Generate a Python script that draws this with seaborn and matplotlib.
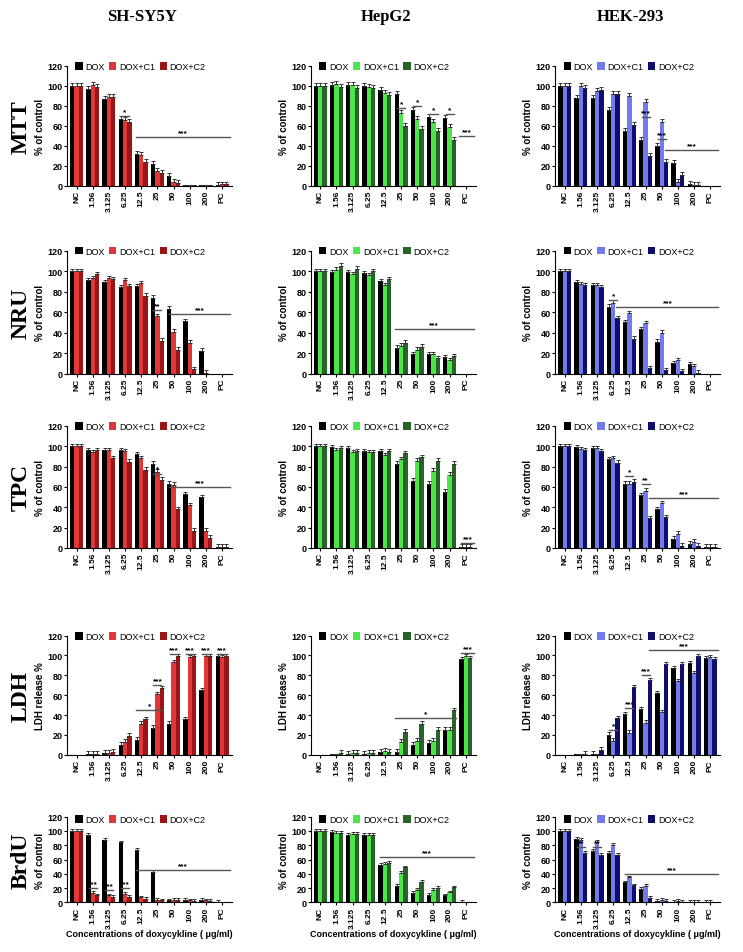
import numpy as np
import pandas as pd
import matplotlib
matplotlib.use("Agg")
import matplotlib.pyplot as plt
import seaborn as sns

CATS = ["NC", "1.56", "3.125", "6.25", "12.5", "25", "50", "100", "200", "PC"]
SERIES = ["DOX", "DOX+C1", "DOX+C2"]
ASSAYS = ["MTT", "NRU", "TPC", "LDH", "BrdU"]
CELLS = ["SH-SY5Y", "HepG2", "HEK-293"]

# MTT
MTT_SH_DOX = [100, 97, 87, 67, 32, 22, 10, 0.5, 0.3, 1]
MTT_SH_C1 = [100, 101, 89, 66, 31, 15, 4, 0.3, 0.3, 1.5]
MTT_SH_C2 = [100, 99, 89, 64, 24, 13, 3, 0.3, 0.3, 1.5]
MTT_HEP_DOX = [100, 101, 101, 100, 96, 92, 76, 69, 68, 0]
MTT_HEP_C1 = [100, 102, 101, 99, 93, 73, 67, 64, 59, 0]
MTT_HEP_C2 = [100, 99, 98, 98, 91, 60, 57, 55, 46, 0]
MTT_HEK_DOX = [100, 88, 88, 76, 55, 46, 40, 23, 2, 0]
MTT_HEK_C1 = [100, 100, 95, 92, 90, 84, 64, 4, 1, 0]
MTT_HEK_C2 = [100, 98, 96, 92, 61, 30, 24, 11, 1, 0]
# NRU
NRU_SH_DOX = [100, 91, 89, 84, 85, 74, 63, 51, 22, 0]
NRU_SH_C1 = [100, 93, 93, 91, 88, 56, 41, 30, 1, 0]
NRU_SH_C2 = [100, 97, 92, 85, 76, 32, 23, 4, 0, 0]
NRU_HEP_DOX = [100, 99, 99, 98, 90, 25, 19, 19, 16, 0]
NRU_HEP_C1 = [100, 101, 97, 96, 86, 27, 23, 19, 13, 0]
NRU_HEP_C2 = [100, 105, 102, 100, 92, 30, 26, 15, 17, 0]
NRU_HEK_DOX = [100, 89, 86, 65, 50, 43, 31, 10, 9, 0]
NRU_HEK_C1 = [100, 87, 86, 69, 59, 49, 40, 13, 7, 0]
NRU_HEK_C2 = [100, 86, 84, 54, 34, 5, 3, 2, 1, 0]
# TPC
TPC_SH_DOX = [100, 96, 96, 96, 92, 83, 63, 53, 50, 1]
TPC_SH_C1 = [100, 94, 96, 95, 88, 75, 62, 42, 17, 1]
TPC_SH_C2 = [100, 96, 88, 85, 77, 67, 38, 17, 10, 1]
TPC_HEP_DOX = [100, 99, 98, 95, 95, 83, 66, 63, 55, 1]
TPC_HEP_C1 = [100, 96, 94, 94, 91, 87, 86, 76, 72, 1]
TPC_HEP_C2 = [100, 98, 95, 94, 95, 93, 89, 86, 83, 1]
TPC_HEK_DOX = [100, 99, 98, 87, 63, 52, 38, 9, 4, 1]
TPC_HEK_C1 = [100, 97, 98, 88, 63, 56, 44, 14, 6, 1]
TPC_HEK_C2 = [100, 96, 95, 84, 65, 29, 30, 2, 2, 1]
# LDH
LDH_SH_DOX = [0, 1, 2, 10, 15, 27, 31, 36, 65, 99]
LDH_SH_C1 = [0, 1, 2, 13, 31, 61, 93, 98, 99, 98]
LDH_SH_C2 = [0, 1, 3, 19, 36, 67, 99, 99, 99, 99]
LDH_HEP_DOX = [0, 0.5, 1, 1, 3, 3, 10, 12, 25, 96]
LDH_HEP_C1 = [0, 0.5, 2, 2, 4, 13, 14, 14, 25, 99]
LDH_HEP_C2 = [0, 2, 2, 2, 3, 23, 31, 25, 45, 97]
LDH_HEK_DOX = [0, 0.5, 1, 20, 41, 46, 62, 87, 92, 97]
LDH_HEK_C1 = [0, 0.5, 0.5, 14, 22, 32, 43, 74, 82, 98]
LDH_HEK_C2 = [0, 1, 5, 37, 68, 75, 91, 91, 99, 96]
# BrdU
BRDU_SH_DOX = [100, 95, 87, 84, 73, 43, 3, 4, 4, 1]
BRDU_SH_C1 = [100, 13, 10, 12, 7, 4, 4, 3, 3, 0.5]
BRDU_SH_C2 = [100, 10, 8, 8, 5, 3, 4, 2, 2, 0.5]
BRDU_HEP_DOX = [100, 99, 95, 94, 52, 23, 13, 11, 10, 1]
BRDU_HEP_C1 = [100, 97, 96, 94, 54, 41, 18, 18, 14, 0.5]
BRDU_HEP_C2 = [100, 97, 96, 95, 55, 49, 29, 20, 21, 0.5]
BRDU_HEK_DOX = [100, 89, 72, 69, 28, 19, 2, 1, 1, 1]
BRDU_HEK_C1 = [100, 87, 85, 80, 35, 23, 4, 2, 1, 1]
BRDU_HEK_C2 = [100, 69, 67, 66, 24, 6, 2, 1, 1, 0.5]

DATA = {
    ("MTT", 0): (MTT_SH_DOX, MTT_SH_C1, MTT_SH_C2),
    ("MTT", 1): (MTT_HEP_DOX, MTT_HEP_C1, MTT_HEP_C2),
    ("MTT", 2): (MTT_HEK_DOX, MTT_HEK_C1, MTT_HEK_C2),
    ("NRU", 0): (NRU_SH_DOX, NRU_SH_C1, NRU_SH_C2),
    ("NRU", 1): (NRU_HEP_DOX, NRU_HEP_C1, NRU_HEP_C2),
    ("NRU", 2): (NRU_HEK_DOX, NRU_HEK_C1, NRU_HEK_C2),
    ("TPC", 0): (TPC_SH_DOX, TPC_SH_C1, TPC_SH_C2),
    ("TPC", 1): (TPC_HEP_DOX, TPC_HEP_C1, TPC_HEP_C2),
    ("TPC", 2): (TPC_HEK_DOX, TPC_HEK_C1, TPC_HEK_C2),
    ("LDH", 0): (LDH_SH_DOX, LDH_SH_C1, LDH_SH_C2),
    ("LDH", 1): (LDH_HEP_DOX, LDH_HEP_C1, LDH_HEP_C2),
    ("LDH", 2): (LDH_HEK_DOX, LDH_HEK_C1, LDH_HEK_C2),
    ("BrdU", 0): (BRDU_SH_DOX, BRDU_SH_C1, BRDU_SH_C2),
    ("BrdU", 1): (BRDU_HEP_DOX, BRDU_HEP_C1, BRDU_HEP_C2),
    ("BrdU", 2): (BRDU_HEK_DOX, BRDU_HEK_C1, BRDU_HEK_C2),
}

# significance lines: (x0, x1, y, text)
SIG = {
    ("MTT", 0): [(3.7, 9.5, 49, "***"), (2.75, 3.25, 70, "*")],
    ("MTT", 1): [(8.6, 9.5, 50, "***"), (4.75, 5.25, 78, "*"), (5.75, 6.25, 80, "*"), (6.75, 7.25, 72, "*"), (7.75, 8.25, 72, "*")],
    ("MTT", 2): [(6.2, 9.5, 36, "***"), (4.75, 5.25, 69, "***"), (5.75, 6.25, 47, "***")],
    ("NRU", 0): [(5.7, 9.5, 58, "***"), (4.75, 5.25, 62, "**")],
    ("NRU", 1): [(4.6, 9.5, 43, "***")],
    ("NRU", 2): [(3.2, 9.5, 65, "***"), (2.75, 3.25, 72, "*")],
    ("TPC", 0): [(5.7, 9.5, 60, "***"), (4.75, 5.25, 73, "*")],
    ("TPC", 1): [(8.7, 9.5, 5, "***")],
    ("TPC", 2): [(5.2, 9.5, 49, "***"), (3.75, 4.25, 71, "*"), (4.75, 5.25, 63, "**")],
    ("LDH", 0): [(3.7, 5.3, 45, "*"), (4.75, 5.25, 70, "***"), (5.75, 6.25, 101, "***"), (6.75, 7.25, 101, "***"), (7.75, 8.25, 101, "***"), (8.75, 9.25, 101, "***")],
    ("LDH", 1): [(4.6, 8.4, 37, "*"), (8.7, 9.5, 102, "***")],
    ("LDH", 2): [(5.2, 9.5, 105, "***"), (2.75, 3.25, 25, "*"), (3.75, 4.25, 47, "***"), (4.75, 5.25, 80, "***")],
    ("BrdU", 0): [(3.7, 9.5, 46, "***"), (0.75, 1.25, 20, "***"), (1.75, 2.25, 17, "***"), (2.75, 3.25, 20, "***")],
    ("BrdU", 1): [(3.7, 9.5, 64, "***")],
    ("BrdU", 2): [(3.7, 9.5, 40, "***"), (0.75, 1.25, 78, "**"), (1.75, 2.25, 77, "**")],
}

YLABELS = {"MTT": "% of control", "NRU": "% of control", "TPC": "% of control",
           "LDH": "LDH release %", "BrdU": "% of control"}

PALETTES = [["#000000", "#ff1a1a", "#b00000"],
            ["#000000", "#33ff33", "#1e6e1e"],
            ["#000000", "#5c6cff", "#00007a"]]

plt.rcParams["font.family"] = "Liberation Sans"
fig = plt.figure(figsize=(7.43, 9.53), dpi=100)

col_x = [0.09, 0.418, 0.747]
w = 0.222
row_top = [0.930, 0.736, 0.552, 0.332, 0.142]
row_bot = [0.804, 0.607, 0.424, 0.207, 0.052]

for r, assay in enumerate(ASSAYS):
    for c in range(3):
        vals = DATA[(assay, c)]
        df = pd.DataFrame({
            "conc": CATS * 3,
            "series": sum([[s] * len(CATS) for s in SERIES], []),
            "value": sum([list(v) for v in vals], []),
        })
        ax = fig.add_axes([col_x[c], row_bot[r], w, row_top[r] - row_bot[r]])
        sns.barplot(data=df, x="conc", y="value", hue="series", order=CATS,
                    hue_order=SERIES, palette=PALETTES[c], errorbar=None,
                    width=0.8, ax=ax, edgecolor="none")
        for cont, v in zip(ax.containers, vals):
            xs = [p.get_x() + p.get_width() / 2 for p in cont.patches]
            err = [2.5 if y > 0.6 else 0 for y in v]
            ax.errorbar(xs, v, yerr=[np.zeros(len(v)), err], fmt="none",
                        ecolor="#333333", elinewidth=0.7, capsize=1.2, capthick=0.7)
        for x0, x1, y, t in SIG[(assay, c)]:
            ax.plot([x0, x1], [y, y], color="#555555", lw=1)
            ax.text((x0 + x1) / 2, y + 1, t, ha="center", va="bottom",
                    fontsize=6, fontweight="bold")
        ax.set_ylim(0, 120)
        ax.set_xlim(-0.6, 9.6)
        ax.set_yticks(range(0, 121, 20))
        ax.tick_params(axis="y", labelsize=6.5, length=2, pad=1)
        ax.tick_params(axis="x", labelsize=6, length=2, pad=1, rotation=90)
        for lab in ax.get_xticklabels() + ax.get_yticklabels():
            lab.set_fontweight("bold")
        ax.set_ylabel(YLABELS[assay], fontsize=7, fontweight="bold", labelpad=2)
        if r == 4:
            ax.set_xlabel("Concentrations of doxycykline ( \u03bcg/ml)", fontsize=6.5,
                          fontweight="bold", labelpad=1)
        else:
            ax.set_xlabel("")
        sns.despine(ax=ax)
        ax.legend(loc="upper left", bbox_to_anchor=(0.03, 1.06), ncol=3, frameon=False,
                  fontsize=6.5, handlelength=0.8, handleheight=0.9,
                  columnspacing=0.5, handletextpad=0.3, borderaxespad=0)

for c, name in enumerate(CELLS):
    fig.text(col_x[c] + w / 2 - 0.01, 0.982, name, ha="center", va="center",
             fontsize=12, fontweight="bold", family="Liberation Serif")
for r, assay in enumerate(ASSAYS):
    fig.text(0.028, (row_top[r] + row_bot[r]) / 2, assay, ha="center", va="center",
             rotation=90, fontsize=17, fontweight="bold", family="Liberation Serif")

fig.savefig("out.png", dpi=100, facecolor="white")
